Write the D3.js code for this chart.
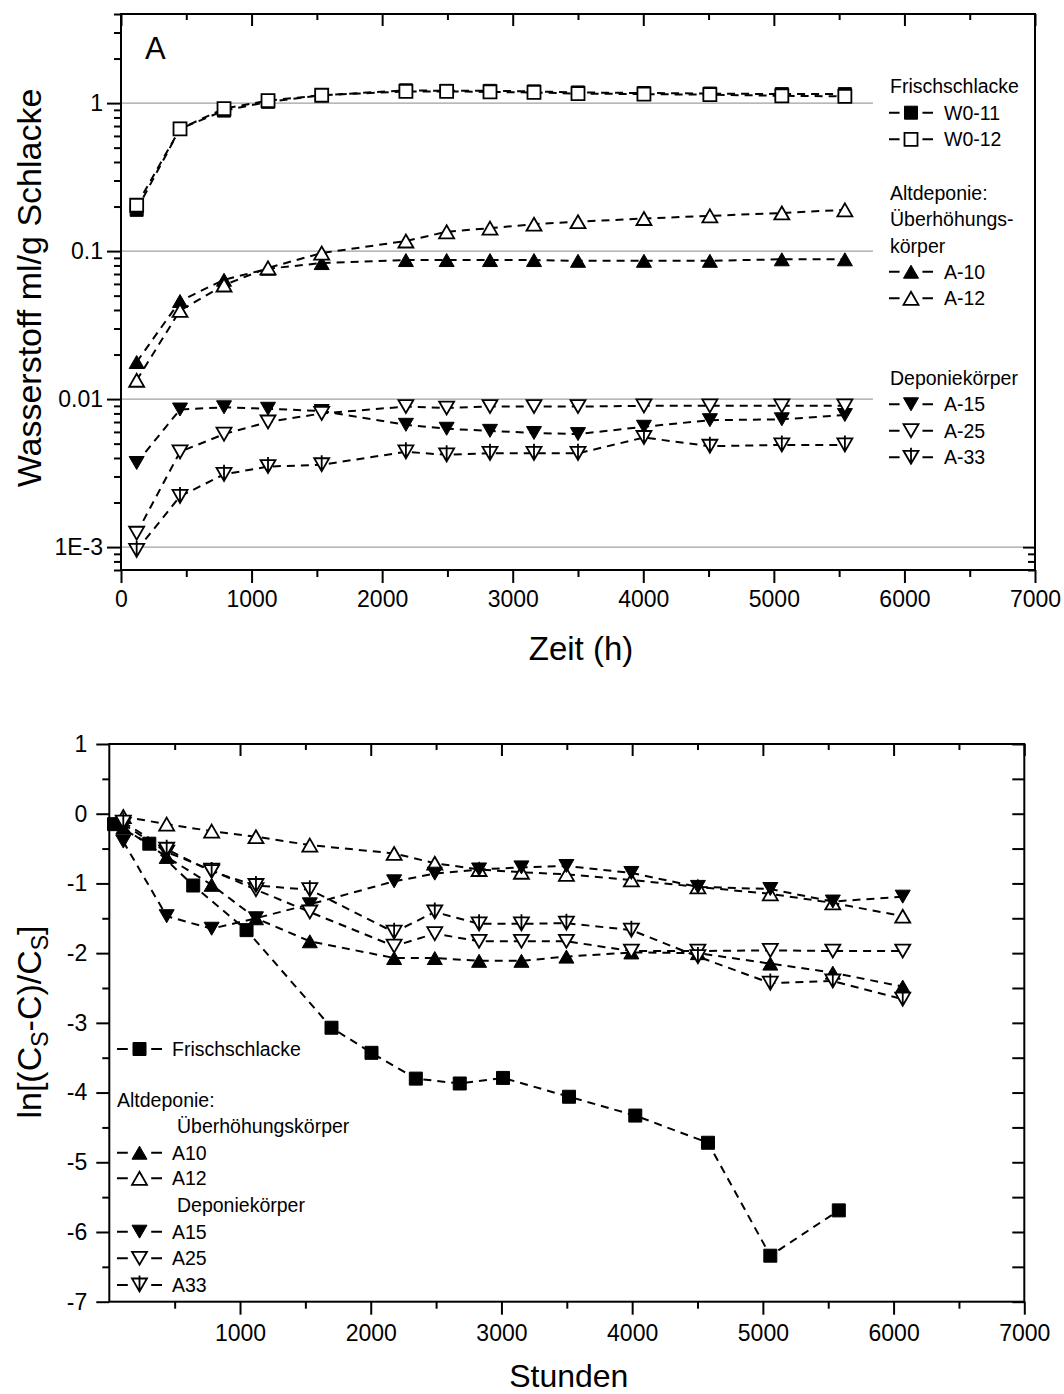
<!DOCTYPE html>
<html>
<head>
<meta charset="utf-8">
<script src="https://cdn.jsdelivr.net/npm/d3@7"></script>
<style>
  body { margin: 0; background: #fff; }
  svg { display: block; font-family: "Liberation Sans", Arial, sans-serif; }
</style>
</head>
<body>
<div id="chart"></div>
<script>
// ---- data: top chart (hydrogen, log scale) ----
const hoursTop = [120, 452, 789, 1126, 1537, 2182, 2494, 2826, 3163, 3500, 4005, 4510, 5061, 5544];
const w0_11 = [0.19, 0.67, 0.89, 1.02, 1.13, 1.22, 1.21, 1.21, 1.2, 1.18, 1.17, 1.16, 1.15, 1.15];
const w0_12 = [0.204, 0.67, 0.917, 1.04, 1.13, 1.2, 1.2, 1.19, 1.18, 1.16, 1.15, 1.14, 1.12, 1.11];
const a_10 = [0.0178, 0.046, 0.064, 0.076, 0.083, 0.087, 0.087, 0.087, 0.087, 0.086, 0.086, 0.086, 0.088, 0.088];
const a_12 = [0.0134, 0.0397, 0.059, 0.077, 0.097, 0.117, 0.135, 0.143, 0.152, 0.158, 0.166, 0.173, 0.181, 0.19];
const a_15 = [0.0037, 0.0085, 0.0088, 0.0086, 0.0083, 0.0067, 0.0063, 0.0061, 0.0059, 0.0058, 0.0065, 0.0072, 0.0073, 0.0078];
const a_25 = [0.00124, 0.0044, 0.0058, 0.007, 0.008, 0.0089, 0.0087, 0.0089, 0.0089, 0.0089, 0.009, 0.009, 0.009, 0.009];
const a_33 = [0.00095, 0.0022, 0.0031, 0.0035, 0.0036, 0.0044, 0.0042, 0.0043, 0.0043, 0.0043, 0.0055, 0.0048, 0.0049, 0.0049];
const yTicksTop = [0.001, 0.01, 0.1, 1];
const yTickLabelsTop = ['1E-3', '0.01', '0.1', '1'];
const xTicksTop = [0, 1000, 2000, 3000, 4000, 5000, 6000, 7000];

// ---- data: bottom chart (ln[(Cs-C)/Cs]) ----
const hoursFresh = [36, 306, 642, 1050, 1700, 2006, 2345, 2681, 3012, 3517, 4024, 4580, 5057, 5581];
const lnFresh = [-0.15, -0.43, -1.03, -1.67, -3.07, -3.43, -3.80, -3.87, -3.79, -4.06, -4.33, -4.72, -6.34, -5.69];
const hoursOld = [107, 439, 783, 1122, 1534, 2179, 2490, 2829, 3153, 3497, 3994, 4503, 5057, 5535, 6070];
const lnA10 = [-0.2, -0.62, -1.02, -1.50, -1.83, -2.07, -2.07, -2.11, -2.11, -2.05, -1.99, -2.0, -2.15, -2.28, -2.48];
const lnA12 = [-0.04, -0.15, -0.25, -0.33, -0.45, -0.57, -0.71, -0.80, -0.84, -0.87, -0.95, -1.05, -1.15, -1.28, -1.47];
const lnA15 = [-0.40, -1.47, -1.65, -1.50, -1.30, -0.97, -0.86, -0.80, -0.77, -0.75, -0.85, -1.05, -1.08, -1.26, -1.19];
const lnA25 = [-0.15, -0.55, -0.81, -1.09, -1.41, -1.90, -1.72, -1.83, -1.83, -1.83, -1.97, -1.97, -1.96, -1.97, -1.97];
const lnA33 = [-0.12, -0.51, -0.83, -1.03, -1.09, -1.70, -1.41, -1.58, -1.58, -1.57, -1.67, -2.05, -2.43, -2.40, -2.66];
const yTicksBottom = [-7, -6, -5, -4, -3, -2, -1, 0, 1];
const xTicksBottom = [1000, 2000, 3000, 4000, 5000, 6000, 7000];

const W = 1064, H = 1394;
const svg = d3.select('#chart').append('svg').attr('width', W).attr('height', H);

// plain hyphen for negatives, like the original figure
const intFmt = (d) => String(d);

// marker shapes (bbox-centred, like Origin symbols)
const markerPath = {
  square: 'M-6.5,-6.5H6.5V6.5H-6.5Z',
  up: 'M0,-6.5L7.5,6.5H-7.5Z',
  down: 'M-7.5,-6.5H7.5L0,6.5Z',
  downbar: 'M-7.5,-6.5H7.5L0,6.5Z M0,-9.5V6.5'
};

function drawMarker(g, cx, cy, shape, filled) {
  g.append('path')
    .attr('transform', `translate(${cx},${cy})`)
    .attr('d', markerPath[shape])
    .attr('fill', filled ? '#000' : '#fff')
    .attr('stroke', '#000')
    .attr('stroke-width', filled ? 1 : 1.8);
}

function drawSeries(g, x, y, s) {
  const pts = s.hours.map((h, i) => [h, s.values[i]]);
  const line = d3.line().x((d) => x(d[0])).y((d) => y(d[1]));
  g.append('path')
    .datum(pts)
    .attr('fill', 'none')
    .attr('stroke', '#000')
    .attr('stroke-width', 2)
    .attr('stroke-dasharray', '8,6')
    .attr('d', line);
  pts.forEach((d) => drawMarker(g, x(d[0]), y(d[1]), s.shape, s.filled));
}

// style an axis group: black 2px ticks, no domain
function styleAxis(g, fontSize) {
  g.attr('font-family', null).attr('font-size', fontSize);
  g.select('.domain').remove();
  g.selectAll('line').attr('stroke', '#000').attr('stroke-width', 2);
  g.selectAll('text').attr('fill', '#000');
}

function frame(left, top, right, bottom) {
  svg.append('rect')
    .attr('x', left).attr('y', top)
    .attr('width', right - left).attr('height', bottom - top)
    .attr('fill', 'none').attr('stroke', '#000').attr('stroke-width', 2);
}

function legendEntry(g, x0, x1, cy, textX, label, shape, filled) {
  g.append('line')
    .attr('x1', x0).attr('x2', x1).attr('y1', cy).attr('y2', cy)
    .attr('stroke', '#000').attr('stroke-width', 2)
    .attr('stroke-dasharray', `${(x1 - x0) * 0.24},${(x1 - x0) * 0.52}`);
  drawMarker(g, (x0 + x1) / 2, cy, shape, filled);
  g.append('text').attr('x', textX).attr('y', cy).attr('dy', '0.36em')
    .attr('font-size', 19.5).text(label);
}

function legendText(g, x, cy, label) {
  g.append('text').attr('x', x).attr('y', cy).attr('dy', '0.36em')
    .attr('font-size', 19.5).text(label);
}

// =================== TOP CHART ===================
{
  const m = { left: 121, top: 14, right: 1035, bottom: 570 };
  const legendLeft = 873;
  const x = d3.scaleLinear().domain([0, 7000]).range([m.left, m.right]);
  const y = d3.scaleLog().domain([7e-4, 4]).range([m.bottom, m.top]);

  const allTicks = y.ticks();
  const minorY = allTicks.filter((v) => !yTicksTop.some((t) => Math.abs(v / t - 1) < 1e-6));
  const minorX = d3.range(500, 7000, 1000);

  // gridlines at decades (hidden under legend on the right)
  svg.append('g').selectAll('line').data(yTicksTop).join('line')
    .attr('x1', m.left)
    .attr('x2', (d) => (d >= 0.01 ? legendLeft : m.right - 12))
    .attr('y1', (d) => y(d)).attr('y2', (d) => y(d))
    .attr('stroke', '#a0a0a0').attr('stroke-width', 1.2);

  // axes
  svg.append('g').attr('transform', `translate(${m.left},0)`)
    .call(d3.axisLeft(y).tickValues(yTicksTop).tickSize(14).tickPadding(4)
      .tickFormat((d, i) => yTickLabelsTop[i]))
    .call((g) => styleAxis(g, 23));
  svg.append('g').attr('transform', `translate(${m.left},0)`)
    .call(d3.axisLeft(y).tickValues(minorY).tickSize(7).tickFormat(''))
    .call((g) => styleAxis(g, 23));
  const rightTicks = allTicks.filter((v) => v < 0.0011);
  svg.append('g').attr('transform', `translate(${m.right},0)`)
    .call(d3.axisRight(y).tickValues(rightTicks).tickSize(-12).tickFormat(''))
    .call((g) => styleAxis(g, 23))
    .call((g) => g.selectAll('.tick').filter((d) => d < 0.00095).select('line').attr('x2', -7));

  svg.append('g').attr('transform', `translate(0,${m.bottom})`)
    .call(d3.axisBottom(x).tickValues(xTicksTop).tickSize(13).tickPadding(8).tickFormat(intFmt))
    .call((g) => styleAxis(g, 23));
  svg.append('g').attr('transform', `translate(0,${m.bottom})`)
    .call(d3.axisBottom(x).tickValues(minorX).tickSize(7).tickFormat(''))
    .call((g) => styleAxis(g, 23));
  svg.append('g').attr('transform', `translate(0,${m.top})`)
    .call(d3.axisTop(x).tickValues(xTicksTop).tickSize(-12).tickFormat(''))
    .call((g) => styleAxis(g, 23));
  svg.append('g').attr('transform', `translate(0,${m.top})`)
    .call(d3.axisTop(x).tickValues(minorX).tickSize(-6).tickFormat(''))
    .call((g) => styleAxis(g, 23));

  // series
  const series = [
    { hours: hoursTop, values: w0_11, shape: 'square', filled: true },
    { hours: hoursTop, values: w0_12, shape: 'square', filled: false },
    { hours: hoursTop, values: a_10, shape: 'up', filled: true },
    { hours: hoursTop, values: a_12, shape: 'up', filled: false },
    { hours: hoursTop, values: a_15, shape: 'down', filled: true },
    { hours: hoursTop, values: a_25, shape: 'down', filled: false },
    { hours: hoursTop, values: a_33, shape: 'downbar', filled: false }
  ];
  const plot = svg.append('g');
  series.forEach((s) => drawSeries(plot, x, y, s));

  frame(m.left, m.top, m.right, m.bottom);

  // panel letter
  svg.append('text').attr('x', 145).attr('y', 59).attr('font-size', 31).text('A');

  // legend
  const lg = svg.append('g');
  const lx0 = 889, lx1 = 933, tx = 944;
  legendText(lg, 890, 86, 'Frischschlacke');
  legendEntry(lg, lx0, lx1, 112.7, tx, 'W0-11', 'square', true);
  legendEntry(lg, lx0, lx1, 139.3, tx, 'W0-12', 'square', false);
  legendText(lg, 890, 192.7, 'Altdeponie:');
  legendText(lg, 890, 219.3, 'Überhöhungs-');
  legendText(lg, 890, 246, 'körper');
  legendEntry(lg, lx0, lx1, 271.7, tx, 'A-10', 'up', true);
  legendEntry(lg, lx0, lx1, 298.3, tx, 'A-12', 'up', false);
  legendText(lg, 890, 377.7, 'Deponiekörper');
  legendEntry(lg, lx0, lx1, 404.3, tx, 'A-15', 'down', true);
  legendEntry(lg, lx0, lx1, 430.7, tx, 'A-25', 'down', false);
  legendEntry(lg, lx0, lx1, 457.3, tx, 'A-33', 'downbar', false);

  // axis titles
  svg.append('text').attr('x', (m.left + m.right) / 2 + 3).attr('y', 660)
    .attr('text-anchor', 'middle').attr('font-size', 33).text('Zeit (h)');
  svg.append('text').attr('transform', 'translate(41,288) rotate(-90)')
    .attr('text-anchor', 'middle').attr('font-size', 34).text('Wasserstoff ml/g Schlacke');
}

// =================== BOTTOM CHART ===================
{
  const m = { left: 109.3, top: 744, right: 1024.3, bottom: 1301.7 };
  const x = d3.scaleLinear().domain([0, 7000]).range([m.left, m.right]);
  const y = d3.scaleLinear().domain([-7, 1]).range([m.bottom, m.top]);
  const minorX = d3.range(500, 7000, 1000);
  const minorY = d3.range(-6.5, 1, 1);

  svg.append('g').attr('transform', `translate(${m.left},0)`)
    .call(d3.axisLeft(y).tickValues(yTicksBottom).tickSize(13).tickPadding(9).tickFormat(intFmt))
    .call((g) => styleAxis(g, 23));
  svg.append('g').attr('transform', `translate(${m.left},0)`)
    .call(d3.axisLeft(y).tickValues(minorY).tickSize(7).tickFormat(''))
    .call((g) => styleAxis(g, 23));
  svg.append('g').attr('transform', `translate(${m.right},0)`)
    .call(d3.axisRight(y).tickValues(yTicksBottom.concat(minorY)).tickSize(-12).tickFormat(''))
    .call((g) => styleAxis(g, 23));

  svg.append('g').attr('transform', `translate(0,${m.bottom})`)
    .call(d3.axisBottom(x).tickValues(xTicksBottom).tickSize(13).tickPadding(10).tickFormat(intFmt))
    .call((g) => styleAxis(g, 23));
  svg.append('g').attr('transform', `translate(0,${m.bottom})`)
    .call(d3.axisBottom(x).tickValues(minorX).tickSize(7).tickFormat(''))
    .call((g) => styleAxis(g, 23));
  svg.append('g').attr('transform', `translate(0,${m.top})`)
    .call(d3.axisTop(x).tickValues(xTicksBottom).tickSize(-12).tickFormat(''))
    .call((g) => styleAxis(g, 23));
  svg.append('g').attr('transform', `translate(0,${m.top})`)
    .call(d3.axisTop(x).tickValues(minorX).tickSize(-6).tickFormat(''))
    .call((g) => styleAxis(g, 23));

  const series = [
    { hours: hoursFresh, values: lnFresh, shape: 'square', filled: true },
    { hours: hoursOld, values: lnA10, shape: 'up', filled: true },
    { hours: hoursOld, values: lnA12, shape: 'up', filled: false },
    { hours: hoursOld, values: lnA15, shape: 'down', filled: true },
    { hours: hoursOld, values: lnA25, shape: 'down', filled: false },
    { hours: hoursOld, values: lnA33, shape: 'downbar', filled: false }
  ];
  const plot = svg.append('g');
  series.forEach((s) => drawSeries(plot, x, y, s));

  frame(m.left, m.top, m.right, m.bottom);

  // legend
  const lg = svg.append('g');
  const lx0 = 117, lx1 = 162, tx = 172;
  legendEntry(lg, lx0, lx1, 1049, tx, 'Frischschlacke', 'square', true);
  legendText(lg, 117, 1100, 'Altdeponie:');
  legendText(lg, 177, 1126, 'Überhöhungskörper');
  legendEntry(lg, lx0, lx1, 1152.7, tx, 'A10', 'up', true);
  legendEntry(lg, lx0, lx1, 1178.3, tx, 'A12', 'up', false);
  legendText(lg, 177, 1205, 'Deponiekörper');
  legendEntry(lg, lx0, lx1, 1231.7, tx, 'A15', 'down', true);
  legendEntry(lg, lx0, lx1, 1258.3, tx, 'A25', 'down', false);
  legendEntry(lg, lx0, lx1, 1285, tx, 'A33', 'downbar', false);

  // axis titles
  svg.append('text').attr('x', (m.left + m.right) / 2 + 2).attr('y', 1387)
    .attr('text-anchor', 'middle').attr('font-size', 32).text('Stunden');

  const yl = svg.append('text').attr('transform', 'translate(41,1022) rotate(-90)')
    .attr('text-anchor', 'middle').attr('font-size', 34);
  yl.append('tspan').text('ln[(C');
  yl.append('tspan').attr('font-size', 23).attr('dy', 7).text('S');
  yl.append('tspan').attr('dy', -7).text('-C)/C');
  yl.append('tspan').attr('font-size', 23).attr('dy', 7).text('S');
  yl.append('tspan').attr('dy', -7).text(']');
}
</script>
</body>
</html>
